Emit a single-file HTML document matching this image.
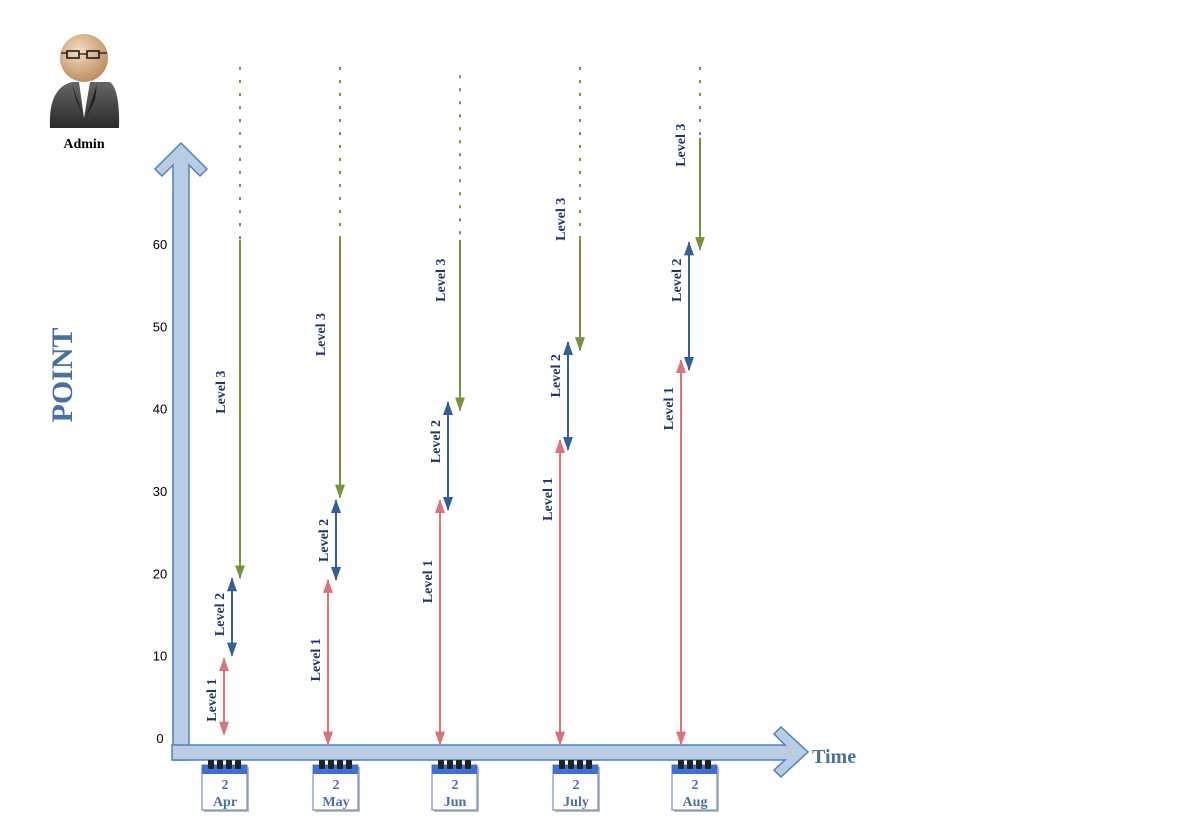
<!DOCTYPE html>
<html><head><meta charset="utf-8"><style>
html,body{margin:0;padding:0;background:#fff;width:1188px;height:840px;overflow:hidden}
svg{display:block}
text{font-family:"Liberation Serif",serif}
</style></head><body>
<svg id="chart" width="1188" height="840" viewBox="0 0 1188 840">
<defs>
<radialGradient id="head" cx="0.4" cy="0.35" r="0.7"><stop offset="0" stop-color="#f6dcc0"/><stop offset="1" stop-color="#b98a5a"/></radialGradient>
<linearGradient id="suit" x1="0" y1="0" x2="0" y2="1"><stop offset="0" stop-color="#666"/><stop offset="1" stop-color="#2a2a2a"/></linearGradient>
<marker id="mr" markerWidth="14" markerHeight="10" refX="13" refY="5" orient="auto-start-reverse" markerUnits="userSpaceOnUse"><path d="M0,0 L14,5 L0,10Z" fill="#d9747a"/></marker>
<marker id="mb" markerWidth="14" markerHeight="10" refX="13" refY="5" orient="auto-start-reverse" markerUnits="userSpaceOnUse"><path d="M0,0 L14,5 L0,10Z" fill="#355f99"/></marker>
<marker id="mg" markerWidth="14" markerHeight="10" refX="13" refY="5" orient="auto-start-reverse" markerUnits="userSpaceOnUse"><path d="M0,0 L14,5 L0,10Z" fill="#77933c"/></marker>
</defs>
<g>
<path d="M50,128 Q48,88 72,82 L110,82 Q120,90 119,128 Z" fill="url(#suit)"/>
<path d="M79,82 L84,118 L90,82Z" fill="#fff"/>
<path d="M72,84 L84,118 L76,100Z M97,84 L86,118 L95,100Z" fill="#222"/>
<circle cx="84" cy="58" r="24" fill="url(#head)"/>
<rect x="67" y="51" width="12" height="7" fill="none" stroke="#111" stroke-width="1.5"/>
<rect x="87" y="51" width="12" height="7" fill="none" stroke="#111" stroke-width="1.5"/>
<path d="M61,53 L67,53 M79,54 L87,54 M99,53 L107,53" stroke="#111" stroke-width="1.2"/>
<text x="84" y="148" text-anchor="middle" font-size="14" font-weight="bold" fill="#000">Admin</text>
</g>
<g>
<path d="M173,760 L173,165 L162,176 L155,169 L181,143 L207,169 L200,176 L189,165 L189,760Z" fill="#b8cce4" stroke="#4f81bd" stroke-width="1.5"/>
</g>
<g>
<path d="M172,745 L785,745 L774,734 L781,727 L808,752 L781,777 L774,770 L785,760 L172,760Z" fill="#b8cce4" stroke="#4f81bd" stroke-width="1.5"/>
</g>
<text transform="translate(72,375) rotate(-90)" text-anchor="middle" font-size="30" font-weight="bold" fill="#4a6fa5">POINT</text>
<text x="812" y="763" font-size="20" font-weight="bold" fill="#4a6fa5">Time</text>
<g id="ticks"></g>
<g id="marks"></g>
<g id="cals"></g>
</svg>
<script>
const months = ["Apr","May","Jun","July","Aug"];
const dayNums = ["2","2","2","2","2"];
const yTicks = [0,10,20,30,40,50,60];
const level1Start = [0.4,-0.8,-0.8,-0.8,-0.8];
const level1End = [9.7,19.2,28.9,36.2,45.9];
const level2Start = [10,19.2,27.7,35,44.7];
const level2End = [19.4,28.9,40.8,48.1,60.2];
const level3Start = [60.5,60.9,60.5,60.7,72.9];
const level3End = [19.4,29.2,39.8,47.1,59.3];
const dottedTop = [81.5,81.5,80.5,81.5,81.5];
const label1At = [4.6,9.5,19,29,40];
const label2At = [15,24,36,44,55.6];
const label3At = [42,49,55.6,63,72];
const NS="http://www.w3.org/2000/svg";
function y(v){return 738 - v*8.233;}
function x(i){return [224,328,440,560,681][i];}
function calX(i){return [225,336,455,576,695][i];}
function mk(tag,attrs,parent){const e=document.createElementNS(NS,tag);for(const k in attrs)e.setAttribute(k,attrs[k]);parent.appendChild(e);return e;}
const tg=document.getElementById('ticks');
yTicks.forEach(t=>{
  const e=mk('text',{x:160,y:y(t)+5,'text-anchor':'middle','font-size':13,fill:'#000'},tg);
  e.style.fontFamily='"Liberation Sans",sans-serif';
  e.textContent=t;
  
  
});
const mg=document.getElementById('marks');
function label(xx,v,txt){
  const e=mk('text',{transform:`translate(${xx},${y(v)}) rotate(-90)`,'text-anchor':'middle','font-size':14,'font-weight':'bold',fill:'#1f3864'},mg);
  e.textContent=txt;
  
  
}
months.forEach((m,i)=>{
  const x1=x(i), x2=x1+8, x3=x1+(i===0?16:i===1?12:i===2?20:i===3?20:19);
  const a=mk('line',{x1:x1,y1:Math.min(y(level1Start[i]),745),x2:x1,y2:y(level1End[i]),stroke:'#d9747a','stroke-width':2,'marker-start':'url(#mr)','marker-end':'url(#mr)'},mg);
  
  
  const b=mk('line',{x1:x2,y1:y(level2Start[i]),x2:x2,y2:y(level2End[i]),stroke:'#355f99','stroke-width':2,'marker-start':'url(#mb)','marker-end':'url(#mb)'},mg);
  
  
  const d=mk('line',{x1:x3,y1:y(dottedTop[i]),x2:x3,y2:y(level3Start[i]),stroke:'#77933c','stroke-width':2,'stroke-dasharray':'3,10'},mg);
  
  
  const c=mk('line',{x1:x3,y1:y(level3Start[i]),x2:x3,y2:y(level3End[i]),stroke:'#77933c','stroke-width':2,'marker-end':'url(#mg)'},mg);
  
  
  label(x1-8,label1At[i],'Level 1');
  label(x2-8,label2At[i],'Level 2');
  label(x3-15,label3At[i],'Level 3');
});
const cg=document.getElementById('cals');
months.forEach((m,i)=>{
  const cx=calX(i);
  const g=mk('g',{},cg);
  
  
  mk('rect',{x:cx-21,y:767,width:45,height:45,fill:'#bbb'},g);
  mk('rect',{x:cx-23,y:765,width:45,height:45,fill:'#fff',stroke:'#5a7cbf','stroke-width':1},g);
  mk('rect',{x:cx-23,y:765,width:45,height:9,fill:'#3d6fd6'},g);
  for(let k=0;k<4;k++) mk('rect',{x:cx-17+k*9,y:760,width:6,height:9,fill:'#222',rx:1},g);
  const t1=mk('text',{x:cx,y:789,'text-anchor':'middle','font-size':14,'font-weight':'bold',fill:'#4a6fa5'},g);t1.textContent=dayNums[i];
  const t2=mk('text',{x:cx,y:806,'text-anchor':'middle','font-size':14,'font-weight':'bold',fill:'#4a6fa5'},g);t2.textContent=m;
});
</script>
</body></html>
